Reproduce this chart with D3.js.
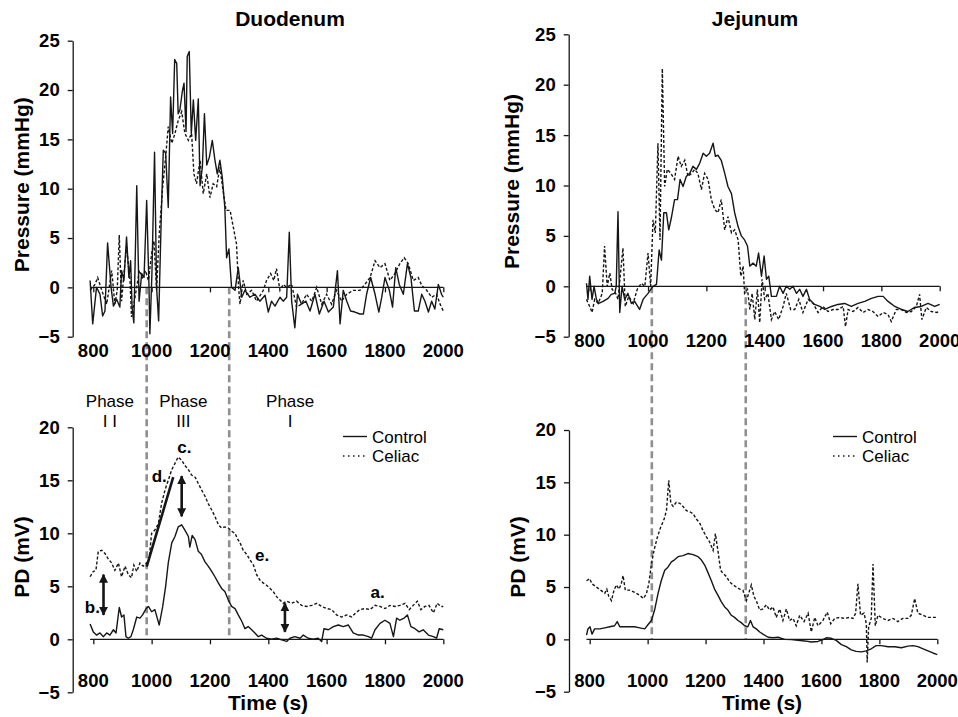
<!DOCTYPE html>
<html>
<head>
<meta charset="utf-8">
<script src="https://cdn.jsdelivr.net/npm/d3@7"></script>
<style>
  body { margin: 0; background: #fff; }
  svg { display: block; font-family: "Liberation Sans", Arial, Helvetica, sans-serif; }
</style>
</head>
<body>
<svg id="chart" width="958" height="717"></svg>
<script>
const xTicks = [800, 1000, 1200, 1400, 1600, 1800, 2000];
const pressureTicks = [-5, 0, 5, 10, 15, 20, 25];
const pdTicks = [-5, 0, 5, 10, 15, 20];

// [time (s), value]
const duoPressControl = [
  [789, 0.7], [798, -3.7], [811, 0], [823, -0.7], [832, -2.9], [840, -2.4], [849, 4.5], [861, 0],
  [869, -1.9], [880, -1.2], [891, -2.0], [897, 1.7], [905, 0.7], [914, 5.1], [922, 1.0], [928, 2.7],
  [933, -2.0], [939, -3.6], [949, 10.3], [957, -1.4], [966, 1.4], [974, 1.0], [983, 8.8], [991, 0],
  [994, -4.7], [1001, 1.4], [1010, 13.7], [1017, 0], [1024, -3.4], [1033, 7.1], [1040, 13.9], [1048, 13.6],
  [1057, 8.1], [1065, 19.3], [1072, 15.6], [1079, 23.1], [1086, 22.7], [1091, 17.6], [1097, 18.0],
  [1105, 19.8], [1111, 20.7], [1118, 15.8], [1122, 23.4], [1129, 23.9], [1136, 15.6], [1143, 19.0],
  [1151, 14.9], [1160, 19.1], [1166, 10.3], [1174, 12.2], [1181, 17.6], [1189, 12.4], [1198, 13.2],
  [1208, 14.9], [1217, 12.9], [1225, 11.5], [1234, 12.9], [1242, 11.2], [1251, 8.1], [1257, 3.0],
  [1265, 3.9], [1274, 0], [1286, -0.3], [1297, 2.0], [1309, -1.0], [1320, -0.3], [1337, -1.0],
  [1354, -0.7], [1371, -1.4], [1389, -0.8], [1400, -2.5], [1411, -1.4], [1423, -1.9], [1440, -1.0],
  [1451, -1.4], [1463, -1.0], [1472, 5.6], [1480, -1.4], [1491, -4.1], [1500, -0.7], [1514, -1.7],
  [1529, -1.4], [1543, -2.4], [1560, -0.7], [1575, -2.7], [1591, -1.4], [1606, -2.5], [1623, -2.0],
  [1637, 1.7], [1646, -3.7], [1657, -0.3], [1669, -1.4], [1682, -2.4], [1697, -2.5], [1714, -2.7],
  [1726, -2.7], [1737, -0.7], [1751, 1.0], [1766, -0.7], [1779, -2.5], [1789, -1.0], [1800, 1.0],
  [1815, -0.3], [1826, -2.0], [1837, 2.0], [1849, 0.3], [1863, -0.7], [1877, 2.4], [1889, 1.0],
  [1901, -2.4], [1914, -2.4], [1926, -0.7], [1937, -1.4], [1949, -2.5], [1960, -1.4], [1971, -2.2],
  [1983, 0.3], [1994, -0.7], [2000, -1.0]
];
const duoPressCeliac = [
  [789, -0.3], [806, 0.3], [815, 1.0], [829, -0.3], [846, -1.7], [863, 1.7], [874, -1.7], [882, -0.3],
  [889, 5.3], [897, -1.4], [905, 1.4], [914, 4.1], [926, 0.7], [931, -3.0], [943, -1.0], [958, 1.7],
  [969, 1.0], [979, 1.7], [989, 0.7], [1000, 3.4], [1008, 4.7], [1017, -0.3], [1026, 5.4], [1038, 10.2],
  [1048, 13.2], [1057, 16.3], [1069, 14.6], [1080, 15.6], [1091, 16.9], [1103, 17.8], [1114, 15.6],
  [1126, 14.9], [1137, 15.6], [1145, 11.5], [1154, 10.5], [1166, 12.9], [1177, 9.5], [1189, 11.5],
  [1200, 9.1], [1211, 10.5], [1223, 10.2], [1234, 12.2], [1243, 10.2], [1255, 7.8], [1269, 7.8],
  [1280, 6.1], [1291, 4.4], [1298, 0], [1303, -1.7], [1314, 0.7], [1326, -0.7], [1343, -0.3],
  [1360, -1.4], [1383, -0.3], [1394, 0.7], [1408, 1.4], [1419, 0.7], [1428, 1.9], [1440, -0.3],
  [1451, 0.3], [1463, 0], [1480, 0.3], [1497, -2.0], [1514, -1.7], [1531, -0.7], [1549, -1.4],
  [1566, 0], [1583, -1.7], [1600, -0.7], [1617, -1.7], [1634, -0.3], [1651, -1.4], [1669, -0.7],
  [1691, -0.3], [1714, -0.3], [1731, 0.3], [1749, 1.0], [1766, 2.7], [1783, 2.0], [1800, 2.4],
  [1817, 0.7], [1834, 1.4], [1851, 2.4], [1866, 3.0], [1880, 2.4], [1897, 0.7], [1914, 1.0],
  [1926, 0.2], [1943, -0.3], [1960, -1.0], [1977, -0.7], [1989, -1.7], [2000, -2.4]
];
const jejPressControl = [
  [789, 0.3], [794, -1.3], [800, 1.0], [808, -1.3], [815, 0], [823, -1.3], [831, -1.7], [846, -1.5],
  [863, -1.2], [874, -0.8], [886, -0.7], [891, 0], [897, 7.4], [903, -2.6], [911, 0], [920, -1.3],
  [931, -0.7], [943, -1.7], [954, -1.5], [971, -2.3], [983, -1.3], [1000, -0.7], [1017, 0], [1029, 0.2],
  [1038, 3.6], [1046, 2.6], [1054, 7.3], [1063, 7.3], [1071, 5.6], [1080, 6.8], [1091, 8.6], [1101, 8.6],
  [1110, 10.6], [1120, 9.9], [1131, 10.9], [1143, 11.2], [1154, 11.9], [1166, 11.6], [1177, 12.2],
  [1189, 13.2], [1200, 12.9], [1211, 13.2], [1223, 14.2], [1231, 12.9], [1240, 13.0], [1251, 12.5],
  [1263, 11.2], [1274, 9.9], [1286, 9.2], [1297, 7.3], [1309, 5.9], [1320, 5.0], [1331, 4.6],
  [1341, 4.0], [1349, 2.0], [1360, 2.3], [1371, 2.0], [1379, 3.3], [1389, 1.0], [1398, 3.0],
  [1406, 0.7], [1414, 1.0], [1423, -1.0], [1440, -1.0], [1451, 0], [1463, -0.7], [1474, 0],
  [1486, -0.3], [1497, 0], [1509, -0.7], [1520, -0.3], [1531, -1.0], [1543, -0.3], [1554, -1.3],
  [1571, -1.8], [1589, -2.0], [1606, -2.3], [1629, -2.0], [1651, -1.8], [1674, -1.7], [1697, -2.0],
  [1720, -1.7], [1743, -1.5], [1766, -1.2], [1789, -1.0], [1806, -1.0], [1823, -1.5], [1846, -2.0],
  [1869, -2.3], [1891, -2.5], [1914, -2.1], [1937, -2.0], [1960, -1.7], [1983, -2.0], [2000, -1.8]
];
const jejPressCeliac = [
  [789, -1.3], [800, -2.0], [808, -2.6], [817, -1.3], [829, -1.7], [843, -0.7], [851, 4.0], [860, 0],
  [869, 1.3], [877, -0.3], [889, -0.7], [897, -1.3], [914, 3.8], [922, -2.0], [934, -1.0], [949, -1.7],
  [963, -0.3], [977, 0.3], [989, 0], [1000, 3.3], [1009, 0], [1017, 6.6], [1025, 5.3], [1034, 14.2],
  [1041, 4.6], [1049, 21.6], [1057, 9.9], [1066, 11.6], [1078, 11.2], [1091, 10.6], [1103, 12.9],
  [1114, 11.9], [1126, 12.5], [1137, 10.9], [1149, 11.2], [1160, 11.6], [1171, 11.2], [1183, 9.6],
  [1194, 11.2], [1206, 10.6], [1217, 8.6], [1229, 7.6], [1240, 7.3], [1251, 8.6], [1263, 5.6],
  [1274, 6.9], [1286, 5.3], [1297, 5.6], [1309, 4.6], [1318, 1.0], [1326, 2.0], [1331, -0.7],
  [1341, -0.3], [1349, -2.3], [1357, -0.7], [1366, -3.3], [1375, -0.3], [1383, -3.6], [1391, 0.7],
  [1400, -1.3], [1411, -0.7], [1423, -3.3], [1434, -2.5], [1448, -3.3], [1463, -2.0], [1474, -0.7],
  [1489, -2.3], [1503, -2.3], [1517, -1.3], [1531, -2.6], [1549, -1.3], [1566, -1.7], [1583, -2.6],
  [1600, -2.0], [1617, -2.5], [1634, -2.3], [1651, -2.3], [1669, -2.0], [1677, -4.0], [1686, -2.3],
  [1703, -2.5], [1720, -2.1], [1737, -2.6], [1754, -2.3], [1771, -2.5], [1789, -3.0], [1806, -2.6],
  [1823, -2.8], [1834, -3.5], [1851, -2.3], [1869, -2.3], [1886, -2.6], [1903, -2.5], [1920, -2.0],
  [1931, -0.8], [1939, -3.3], [1954, -2.1], [1971, -2.5], [1989, -2.6], [2000, -2.5]
];
const duoPdControl = [
  [789, 1.45], [800, 0.7], [811, 0.4], [823, 0.6], [834, 0.25], [846, 0.6], [857, 0.4], [869, 0.9],
  [878, 0.6], [889, 3.0], [897, 2.1], [905, 2.3], [912, 0.25], [920, 0.1], [929, 0.25], [937, 0.9],
  [949, 2.1], [960, 2.0], [969, 2.3], [981, 2.9], [989, 3.1], [1000, 2.6], [1011, 2.8], [1026, 1.35],
  [1038, 3.1], [1048, 5.0], [1057, 7.2], [1069, 9.1], [1080, 9.7], [1091, 10.6], [1103, 10.8],
  [1114, 10.3], [1126, 9.7], [1131, 8.7], [1139, 9.8], [1149, 9.4], [1160, 8.3], [1171, 8.0],
  [1183, 7.3], [1194, 6.9], [1206, 6.4], [1217, 5.9], [1229, 5.3], [1240, 4.8], [1251, 4.5],
  [1263, 3.7], [1274, 3.1], [1286, 2.9], [1297, 2.3], [1309, 1.7], [1320, 1.0], [1331, 1.2],
  [1343, 0.9], [1354, 0.6], [1366, 0.25], [1377, 0.4], [1394, 0.1], [1411, 0], [1429, 0.1],
  [1446, -0.06], [1463, -0.2], [1474, 0.1], [1491, 0.25], [1509, 0.1], [1520, 0.4], [1537, 0.1],
  [1554, 0], [1571, 0.1], [1583, -0.2], [1591, 1.0], [1606, 0.9], [1623, 1.2], [1640, 1.35],
  [1657, 1.2], [1674, 1.35], [1691, 0.6], [1709, 0.4], [1726, 0.4], [1743, 0.25], [1754, 0.1],
  [1766, 0.9], [1783, 1.5], [1800, 1.8], [1817, 1.5], [1829, 0.25], [1840, 2.0], [1851, 1.8],
  [1866, 2.0], [1877, 2.3], [1889, 1.2], [1903, 1.0], [1917, 0.7], [1931, 0.9], [1949, 0.4],
  [1966, 0.25], [1977, 0.1], [1986, 1.0], [2000, 0.9]
];
const duoPdCeliac = [
  [789, 5.9], [800, 6.4], [809, 6.5], [817, 8.3], [829, 8.4], [840, 8.1], [851, 7.6], [863, 7.2],
  [874, 6.5], [886, 7.2], [897, 5.9], [909, 6.9], [920, 6.1], [931, 5.8], [939, 7.0], [949, 6.4],
  [960, 7.2], [971, 6.9], [983, 7.2], [991, 7.5], [1000, 10.0], [1011, 10.3], [1023, 10.9],
  [1034, 12.8], [1046, 14.1], [1057, 15.0], [1069, 16.0], [1080, 16.6], [1091, 17.2], [1103, 16.9],
  [1114, 16.4], [1126, 16.0], [1137, 15.5], [1149, 15.3], [1160, 14.7], [1171, 14.1], [1183, 13.5],
  [1194, 12.8], [1206, 12.2], [1217, 11.6], [1229, 10.8], [1240, 10.5], [1251, 10.6], [1263, 10.5],
  [1274, 10.2], [1286, 10.0], [1294, 9.5], [1303, 9.1], [1314, 8.4], [1326, 8.0], [1337, 7.5],
  [1349, 7.0], [1360, 6.1], [1371, 5.6], [1383, 5.3], [1394, 5.1], [1406, 4.8], [1417, 4.5],
  [1429, 4.0], [1440, 3.7], [1451, 3.4], [1463, 3.6], [1480, 3.4], [1497, 3.6], [1514, 3.2],
  [1531, 3.1], [1549, 3.2], [1566, 3.4], [1583, 3.1], [1600, 2.9], [1617, 2.8], [1634, 2.3],
  [1651, 2.1], [1669, 2.3], [1686, 2.1], [1700, 2.5], [1714, 2.8], [1731, 2.9], [1749, 2.8],
  [1766, 3.2], [1783, 3.1], [1800, 2.9], [1817, 3.2], [1834, 3.1], [1851, 3.2], [1869, 3.4],
  [1883, 2.8], [1897, 3.2], [1911, 3.6], [1923, 2.8], [1937, 3.1], [1951, 3.2], [1966, 2.5],
  [1979, 3.4], [1991, 3.1], [2000, 3.1]
];
const jejPdControl = [
  [789, 0.4], [794, 1.0], [801, 1.2], [808, 0.5], [817, 1.0], [835, 1.0], [852, 1.1], [869, 1.2],
  [886, 1.3], [895, 1.7], [904, 1.2], [921, 1.2], [938, 1.2], [955, 1.2], [973, 1.1], [990, 1.0],
  [1001, 1.4], [1013, 1.8], [1024, 2.8], [1036, 4.4], [1047, 5.6], [1059, 6.6], [1070, 6.9],
  [1082, 7.4], [1093, 7.6], [1105, 7.9], [1122, 8.0], [1139, 8.2], [1157, 8.1], [1174, 7.9],
  [1185, 7.6], [1197, 7.1], [1208, 6.4], [1220, 5.6], [1231, 4.8], [1243, 4.2], [1254, 3.6],
  [1266, 3.1], [1277, 2.8], [1289, 2.3], [1300, 2.1], [1312, 1.8], [1323, 1.6], [1335, 1.3],
  [1346, 1.2], [1355, 1.8], [1364, 1.2], [1375, 1.0], [1387, 0.7], [1398, 0.5], [1416, 0.2],
  [1433, 0.15], [1450, 0.2], [1473, 0], [1496, -0.03], [1519, -0.1], [1542, -0.15], [1565, -0.25],
  [1588, -0.2], [1605, -0.03], [1617, 0.15], [1634, 0.1], [1651, -0.1], [1669, -0.5], [1686, -0.7],
  [1703, -1.0], [1720, -1.15], [1738, -1.2], [1755, -1.1], [1772, -0.9], [1789, -0.6], [1807, -0.6],
  [1830, -0.7], [1853, -0.7], [1876, -0.8], [1899, -0.65], [1916, -0.6], [1933, -0.7], [1951, -0.9],
  [1968, -1.1], [1985, -1.3], [2000, -1.45]
];
const jejPdCeliac = [
  [789, 5.6], [800, 5.8], [808, 5.3], [823, 5.0], [838, 4.7], [852, 4.4], [859, 4.8], [866, 4.1],
  [875, 3.7], [884, 4.7], [892, 5.2], [901, 4.8], [909, 5.3], [915, 6.1], [923, 4.7], [938, 4.7],
  [955, 4.5], [973, 4.2], [986, 3.9], [996, 4.4], [1004, 5.3], [1013, 7.2], [1022, 8.5], [1034, 9.8],
  [1045, 10.7], [1057, 11.5], [1065, 12.3], [1073, 15.2], [1080, 13.0], [1088, 12.7], [1099, 13.1],
  [1111, 13.0], [1122, 12.7], [1134, 12.3], [1145, 12.2], [1157, 12.0], [1168, 11.5], [1180, 11.1],
  [1191, 10.4], [1203, 9.8], [1214, 9.3], [1226, 8.5], [1234, 10.1], [1243, 8.4], [1252, 6.6],
  [1260, 6.3], [1272, 6.0], [1283, 5.5], [1295, 5.2], [1306, 5.0], [1318, 4.8], [1329, 4.7],
  [1341, 3.7], [1349, 4.4], [1358, 5.2], [1367, 4.1], [1375, 3.7], [1387, 2.8], [1398, 2.9],
  [1410, 3.3], [1421, 2.8], [1433, 3.1], [1444, 2.1], [1456, 2.9], [1467, 1.8], [1479, 2.9],
  [1490, 1.8], [1502, 2.0], [1513, 1.3], [1525, 2.3], [1540, 1.7], [1554, 2.5], [1565, 0.7],
  [1577, 2.1], [1588, 1.3], [1605, 1.8], [1620, 2.6], [1632, 1.5], [1646, 2.0], [1663, 2.1],
  [1680, 2.0], [1697, 2.1], [1709, 2.0], [1718, 2.5], [1726, 5.3], [1735, 2.3], [1747, 2.5],
  [1755, 1.5], [1758, -2.2], [1763, 1.2], [1772, 2.0], [1778, 7.2], [1786, 1.3], [1795, 2.3],
  [1812, 2.0], [1830, 1.8], [1847, 2.0], [1864, 1.7], [1881, 2.0], [1899, 2.0], [1910, 2.3],
  [1922, 3.9], [1933, 2.5], [1951, 2.3], [1968, 2.1], [1985, 2.1], [1996, 2.1]
];

// phase boundaries (s)
const duoPhaseBounds = [983, 1266];
const jejPhaseBounds = [1013, 1335];

// phase labels in duodenum PD panel
const phaseNames = ["Phase", "Phase", "Phase"];
const phaseNumerals = ["I I", "III", "I"];
const phaseAt = [857, 1109, 1475];

// annotations in duodenum PD panel: [time, value]
const noteLetters = ["a.", "b.", "c.", "d.", "e."];
const notePoints = [[1775, 3.85], [797, 2.45], [1112, 17.55], [1026, 14.8], [1379, 7.4]];
const doubleArrows = [[835, 6.1, 2.3], [1103, 15.4, 11.6], [1457, 3.4, 0.7]];
const slopeLine = [[983, 6.85], [1074, 15.3]];

const svg = d3.select("#chart");
const ink = "#161616";

svg.append("defs").append("marker")
  .attr("id", "head")
  .attr("viewBox", "0 0 10 10")
  .attr("refX", 9).attr("refY", 5)
  .attr("markerWidth", 9).attr("markerHeight", 9)
  .attr("markerUnits", "userSpaceOnUse")
  .attr("orient", "auto-start-reverse")
  .append("path").attr("d", "M0,0L10,5L0,10Z").attr("fill", ink);

const panels = [
  { key: "duoP", xr: [93.3, 443.3], yr: [336.7, 40.7], dom: [-5, 25], ticks: pressureTicks,
    axisX: 72.7, labelY: 357, control: duoPressControl, celiac: duoPressCeliac,
    title: "Duodenum", titleX: 290, yTitle: "Pressure (mmHg)", yTitleX: 29 },
  { key: "jejP", xr: [589.7, 939.7], yr: [336.7, 34.3], dom: [-5, 25], ticks: pressureTicks,
    axisX: 568.7, labelY: 347, control: jejPressControl, celiac: jejPressCeliac,
    title: "Jejunum", titleX: 755, yTitle: "Pressure (mmHg)", yTitleX: 519 },
  { key: "duoPD", xr: [93.3, 443.3], yr: [692.3, 427.3], dom: [-5, 20], ticks: pdTicks,
    axisX: 72.7, labelY: 686.5, control: duoPdControl, celiac: duoPdCeliac,
    yTitle: "PD (mV)", yTitleX: 29, timeX: 268, legendX: 343 },
  { key: "jejPD", xr: [589.7, 937.3], yr: [691.7, 430], dom: [-5, 20], ticks: pdTicks,
    axisX: 569, labelY: 686.5, control: jejPdControl, celiac: jejPdCeliac,
    yTitle: "PD (mV)", yTitleX: 525, timeX: 762, legendX: 833 }
];

panels.forEach((p) => {
  p.x = d3.scaleLinear().domain([800, 2000]).range(p.xr);
  p.y = d3.scaleLinear().domain(p.dom).range(p.yr);
});

// grey dashed phase boundaries spanning pressure and PD panels
[[panels[0], panels[2], duoPhaseBounds], [panels[1], panels[3], jejPhaseBounds]].forEach(([top, bot, bounds]) => {
  svg.selectAll(null).data(bounds).enter().append("line")
    .attr("x1", (d) => top.x(d)).attr("x2", (d) => top.x(d))
    .attr("y1", top.y(0)).attr("y2", bot.y(0))
    .attr("stroke", "#8f8f8f").attr("stroke-width", 2.6)
    .attr("stroke-dasharray", "7,4");
});

panels.forEach((p) => {
  const g = svg.append("g").attr("class", p.key);

  // y axis
  g.append("g")
    .attr("transform", `translate(${p.axisX},0)`)
    .call(d3.axisLeft(p.y).tickValues(p.ticks).tickSize(5).tickSizeOuter(0).tickPadding(8)
      .tickFormat((d) => (d < 0 ? "\u2212" + Math.abs(d) : d)))
    .call((a) => a.select(".domain").attr("stroke", ink).attr("stroke-width", 1.3))
    .call((a) => a.selectAll(".tick line").attr("stroke", ink).attr("stroke-width", 1.3))
    .call((a) => a.selectAll("text").attr("font-size", 18.5).attr("font-weight", "bold")
      .attr("fill", "#000").attr("font-family", null));

  // zero line with tick marks
  g.append("line")
    .attr("x1", p.x(789)).attr("x2", p.x(2000))
    .attr("y1", p.y(0)).attr("y2", p.y(0))
    .attr("stroke", ink).attr("stroke-width", 1.3);
  g.append("g")
    .attr("transform", `translate(0,${p.y(0)})`)
    .call(d3.axisBottom(p.x).tickValues(xTicks).tickSize(5).tickSizeOuter(0).tickFormat(""))
    .call((a) => a.select(".domain").remove())
    .call((a) => a.selectAll(".tick line").attr("stroke", ink).attr("stroke-width", 1.3));

  // x tick labels
  g.selectAll(".xl").data(xTicks).enter().append("text")
    .attr("x", (d) => p.x(d)).attr("y", p.labelY)
    .attr("text-anchor", "middle").attr("font-size", 18.5).attr("font-weight", "bold")
    .text((d) => d);

  const line = d3.line().x((d) => p.x(d[0])).y((d) => p.y(d[1]));
  g.append("path").datum(p.celiac).attr("d", line)
    .attr("fill", "none").attr("stroke", ink).attr("stroke-width", 1.4)
    .attr("stroke-dasharray", "3,2");
  g.append("path").datum(p.control).attr("d", line)
    .attr("fill", "none").attr("stroke", ink).attr("stroke-width", 1.4)
    .attr("stroke-linejoin", "round");

  // titles
  if (p.title) {
    g.append("text").attr("x", p.titleX).attr("y", 26)
      .attr("text-anchor", "middle").attr("font-size", 21).attr("font-weight", "bold")
      .text(p.title);
  }
  const yMid = (p.yr[0] + p.yr[1]) / 2;
  g.append("text")
    .attr("transform", `translate(${p.yTitleX},${p.key.endsWith("P") ? yMid - 4 : 557}) rotate(-90)`)
    .attr("text-anchor", "middle").attr("font-size", 21).attr("font-weight", "bold")
    .text(p.yTitle);
  if (p.timeX) {
    g.append("text").attr("x", p.timeX).attr("y", 710)
      .attr("text-anchor", "middle").attr("font-size", 21).attr("font-weight", "bold")
      .text("Time (s)");
  }

  // legend
  if (p.legendX) {
    const lg = g.append("g").attr("transform", `translate(${p.legendX},436.5)`);
    lg.append("line").attr("x1", 0).attr("x2", 24).attr("y1", 0).attr("y2", 0)
      .attr("stroke", ink).attr("stroke-width", 1.4);
    lg.append("line").attr("x1", 0).attr("x2", 24).attr("y1", 19.5).attr("y2", 19.5)
      .attr("stroke", ink).attr("stroke-width", 1.4).attr("stroke-dasharray", "1.5,3.5");
    lg.append("text").attr("x", 29).attr("y", 6).attr("font-size", 17).text("Control");
    lg.append("text").attr("x", 29).attr("y", 25.5).attr("font-size", 17).text("Celiac");
  }
});

// annotations on duodenum PD
const pd = panels[2];
const ann = svg.append("g").attr("class", "annotations");

ann.selectAll(".pn").data(phaseAt).enter().append("text")
  .attr("x", (d) => pd.x(d)).attr("y", pd.y(21.9))
  .attr("text-anchor", "middle").attr("font-size", 17)
  .text((d, i) => phaseNames[i]);
ann.selectAll(".pr").data(phaseAt).enter().append("text")
  .attr("x", (d) => pd.x(d)).attr("y", pd.y(20))
  .attr("text-anchor", "middle").attr("font-size", 17)
  .text((d, i) => phaseNumerals[i]);

ann.selectAll(".note").data(notePoints).enter().append("text")
  .attr("x", (d) => pd.x(d[0])).attr("y", (d) => pd.y(d[1]))
  .attr("text-anchor", "middle").attr("font-size", 17).attr("font-weight", "bold")
  .text((d, i) => noteLetters[i]);

ann.selectAll(".arrow").data(doubleArrows).enter().append("line")
  .attr("x1", (d) => pd.x(d[0])).attr("x2", (d) => pd.x(d[0]))
  .attr("y1", (d) => pd.y(d[1])).attr("y2", (d) => pd.y(d[2]))
  .attr("stroke", ink).attr("stroke-width", 2.6)
  .attr("marker-start", "url(#head)").attr("marker-end", "url(#head)");

ann.append("line")
  .attr("x1", pd.x(slopeLine[0][0])).attr("y1", pd.y(slopeLine[0][1]))
  .attr("x2", pd.x(slopeLine[1][0])).attr("y2", pd.y(slopeLine[1][1]))
  .attr("stroke", ink).attr("stroke-width", 2.6);
</script>
</body>
</html>
